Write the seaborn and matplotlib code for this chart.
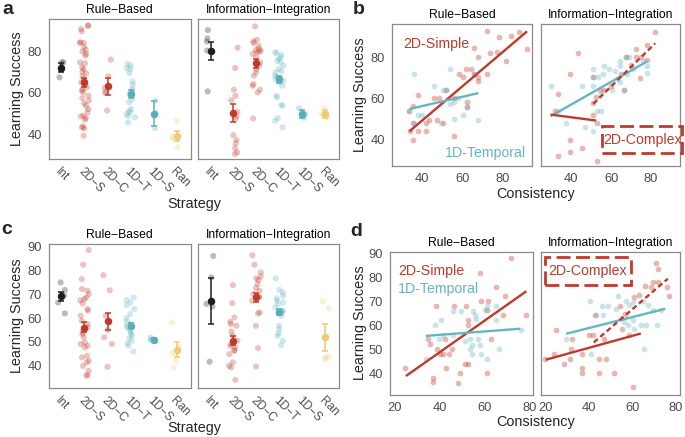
import numpy as np
import pandas as pd
import matplotlib
matplotlib.use("Agg")
import matplotlib.pyplot as plt
import seaborn as sns
from matplotlib.patches import Rectangle

sns.set_style("white")
plt.rcParams['font.family'] = ['Liberation Sans', 'DejaVu Sans']
np.random.seed(3)

# ---------------- categories / labels ----------------
ORDER = ["Int", "2D-S", "2D-C", "1D-T", "1D-S", "Ran"]
TICK_LABELS = ["Int", "2D\u2212S", "2D\u2212C", "1D\u2212T", "1D\u2212S", "Ran"]
FACETS = ["Rule\u2212Based", "Information\u2212Integration"]

# ---------------- panel a: strip data ----------------
a_rb_int = [74.6, 74.6, 67.4, 72.5]
a_rb_2ds = [92.3, 92.0, 90.5, 89.4, 84.0, 83.8, 84.1, 81.8, 80.6, 79.8, 78.6, 77.8, 74.6, 74.1,
            72.2, 71.4, 70.1, 69.3, 66.6, 65.0, 63.7, 62.6, 61.8, 61.0, 60.2, 58.6, 56.3, 53.9,
            52.3, 50.7, 49.1, 48.8, 48.0, 47.2, 44.0, 43.5, 39.5, 43.0, 57.5, 68.0, 55.0]
a_rb_2dc = [75.9, 67.9, 60.6, 59.9, 51.6, 62.5]
a_rb_1dt = [73.8, 73.0, 71.7, 71.4, 69.5, 65.5, 63.9, 61.8, 61.0, 59.4, 57.0, 55.5, 52.3, 51.5,
            50.7, 49.9, 49.1, 48.3, 45.9]
a_rb_1ds = [56.3, 43.2, 50.5]
a_rb_ran = [46.7, 34.0, 39.0, 38.5]
a_rb_mean = [72.0, 65.0, 63.1, 59.3, 50.0, 39.5]
a_rb_lo = [70.1, 62.8, 59.1, 57.4, 44.0, 37.1]
a_rb_hi = [74.1, 67.1, 67.3, 61.4, 55.9, 41.6]

a_ii_int = [90.0, 86.0, 84.5, 80.2, 80.0, 60.7]
a_ii_2ds = [81.6, 71.9, 61.5, 58.6, 56.4, 51.0, 48.8, 47.5, 39.8, 37.5, 35.9, 33.6, 31.6, 30.8]
a_ii_2dc = [91.8, 85.4, 84.6, 83.8, 82.5, 81.0, 80.2, 79.7, 79.4, 78.6, 77.0, 74.6, 73.0, 71.4,
            69.8, 68.2, 64.2, 63.4, 61.5, 60.2, 47.8, 80.5]
a_ii_1dt = [79.4, 79.0, 78.1, 77.0, 76.2, 75.4, 74.6, 73.0, 71.4, 69.8, 68.2, 66.6, 65.8, 65.0,
            63.4, 58.6, 57.8, 54.2, 53.9, 48.0, 46.7, 43.5, 67.5, 70.5]
a_ii_1ds = [52.6, 48.0, 50.0, 49.5]
a_ii_ran = [52.6, 48.3, 50.0, 49.0]
a_ii_mean = [80.0, 50.4, 74.1, 66.6, 50.0, 50.0]
a_ii_lo = [75.7, 46.2, 72.0, 64.5, 48.0, 48.0]
a_ii_hi = [84.1, 54.7, 76.0, 68.2, 52.0, 52.0]

# ---------------- panel c: strip data ----------------
c_rb_int = [75.0, 71.8, 66.6, 62.0, 69.5]
c_rb_2ds = [88.6, 82.4, 76.4, 72.2, 71.5, 70.1, 68.7, 68.0, 66.2, 63.8, 63.1, 61.0, 58.9, 57.5,
            56.1, 54.0, 53.3, 51.9, 49.8, 49.1, 48.4, 47.7, 44.2, 43.5, 42.1, 41.4, 40.0, 37.9,
            35.8, 36.1, 67.5]
c_rb_2dc = [78.0, 71.7, 61.0, 55.0, 52.0, 49.2, 39.6]
c_rb_1dt = [68.7, 67.6, 66.6, 65.5, 63.8, 61.7, 60.0, 58.6, 57.5, 56.7, 56.1, 55.0, 54.3, 53.3,
            52.6, 51.5, 50.5, 49.4, 48.4, 46.0]
c_rb_1ds = [51.9, 50.9, 50.6, 51.0]
c_rb_ran = [58.2, 45.3, 42.1, 39.3, 48.0]
c_rb_mean = [69.1, 56.0, 58.6, 56.7, 50.9, 46.7]
c_rb_lo = [67.0, 54.0, 55.1, 55.7, 50.3, 43.5]
c_rb_hi = [71.1, 58.2, 62.0, 57.8, 51.5, 49.8]

c_ii_int = [86.1, 77.1, 64.9, 41.7, 66.0]
c_ii_2ds = [73.9, 66.3, 60.3, 58.5, 57.5, 56.8, 54.4, 52.6, 50.5, 49.1, 48.4, 47.7, 46.6, 46.3,
            44.9, 41.4, 40.0, 39.3, 34.1]
c_ii_2dc = [86.4, 82.4, 79.2, 77.5, 76.7, 76.0, 74.3, 72.6, 71.5, 70.1, 68.7, 67.3, 62.4, 62.0,
            56.8, 47.4, 39.7, 69.0]
c_ii_1dt = [76.7, 71.9, 70.8, 69.4, 68.3, 67.3, 66.6, 65.9, 64.5, 63.1, 62.4, 61.0, 56.8, 55.4,
            53.6, 52.6, 50.5, 48.7, 62.5, 63.0]
c_ii_1ds = []
c_ii_ran = [67.0, 64.1, 43.8, 42.8, 43.5]
c_ii_mean = [67.3, 50.5, 68.7, 62.7, np.nan, 51.9]
c_ii_lo = [57.5, 48.7, 66.6, 61.4, np.nan, 46.3]
c_ii_hi = [76.8, 52.6, 70.4, 63.8, np.nan, 57.5]

# ---------------- panel b: scatter data ----------------
b_rb_2ds_x = [71.9, 77.9, 84.0, 88.1, 91.9, 65.8, 67.8, 73.7, 77.0, 81.5, 72.1, 61.8, 64.1, 58.0,
              60.0, 65.8, 67.8, 67.8, 37.7, 45.6, 48.4, 55.9, 62.1, 62.1, 51.7, 35.2, 33.6, 43.5,
              47.1, 50.4, 41.8, 35.2, 34.0, 37.9, 41.8, 35.6, 55.9]
b_rb_2ds_y = [92.6, 90.0, 90.3, 92.3, 84.2, 84.4, 80.3, 82.1, 82.4, 78.4, 71.9, 74.2, 74.2, 71.9,
              70.3, 71.9, 70.6, 68.4, 61.9, 60.3, 60.3, 60.3, 58.2, 56.1, 64.2, 56.6, 53.9, 49.8,
              49.8, 48.1, 48.1, 48.1, 44.2, 44.2, 44.2, 40.0, 42.1]
b_rb_1dt_x = [35.7, 53.9, 46.0, 50.1, 51.7, 55.9, 53.9, 37.7, 39.7, 33.6, 55.5, 60.0, 67.8, 35.7,
              49.3, 62.1, 65.8, 57.5]
b_rb_1dt_y = [71.9, 74.2, 66.1, 64.2, 64.2, 58.2, 57.4, 52.3, 52.3, 53.9, 50.2, 52.3, 49.8, 48.1,
              48.2, 56.1, 71.9, 60.5]

b_ii_2ds_x = [43.4, 39.4, 33.3, 52.2, 50.9, 31.7, 50.9, 53.0, 39.4, 45.3, 39.4, 33.3, 53.0]
b_ii_2ds_y = [82.1, 71.9, 62.3, 60.6, 57.9, 53.9, 52.3, 48.2, 40.0, 36.1, 34.0, 32.1, 30.0]
b_ii_2dc_x = [82.1, 78.1, 72.5, 67.4, 72.5, 74.9, 78.1, 50.9, 59.7, 74.6, 66.6, 54.6, 56.5, 65.0, 70.0]
b_ii_2dc_y = [92.1, 86.1, 84.0, 80.0, 80.0, 80.0, 78.7, 70.3, 66.3, 70.0, 64.4, 64.2, 64.2, 72.0, 76.5]
b_ii_1dt_x = [29.6, 45.3, 50.9, 50.9, 56.5, 58.9, 64.5, 64.5, 69.0, 78.1, 78.1, 53.3, 62.9, 64.2,
              60.5, 54.9, 53.0, 54.9, 37.3, 46.9, 50.9, 33.3, 70.9, 75.7, 55.7, 62.1, 67.7, 66.6,
              50.9, 67.4]
b_ii_1dt_y = [66.3, 66.3, 74.2, 66.3, 76.0, 74.2, 78.4, 76.0, 80.0, 76.0, 72.3, 70.3, 69.5, 67.9,
              64.2, 62.3, 53.9, 53.9, 48.1, 46.1, 44.2, 53.9, 74.4, 78.4, 71.9, 73.5, 71.9, 64.4,
              70.3, 80.0]

# ---------------- panel d: scatter data ----------------
d_rb_2ds_x = [71.7, 58.2, 65.3, 69.0, 78.7, 38.3, 46.3, 51.9, 58.6, 61.6, 61.2, 68.3, 52.7, 52.7,
              34.9, 35.6, 42.3, 45.3, 38.6, 63.1, 40.1, 41.5, 44.2, 51.2, 52.7, 42.7, 49.0, 61.2,
              36.8, 37.1, 48.2, 24.5]
d_rb_2ds_y = [88.1, 81.9, 76.0, 72.1, 64.2, 68.1, 68.1, 68.1, 70.0, 70.0, 66.3, 64.2, 62.1, 60.3,
              54.2, 52.4, 54.2, 50.3, 50.3, 54.2, 48.2, 48.2, 48.2, 44.0, 44.0, 42.2, 40.3, 40.3,
              38.1, 36.4, 36.1, 42.2]
d_rb_1dt_x = [46.0, 49.3, 54.9, 55.7, 56.4, 61.2, 65.3, 60.1, 65.0, 37.8, 40.4, 39.8, 41.5, 46.0,
              51.2, 53.4, 54.2, 53.4, 54.2, 57.1, 58.6, 60.9, 66.5, 33.8, 76.5, 57.9]
d_rb_1dt_y = [65.8, 65.8, 65.8, 64.2, 62.8, 68.1, 68.1, 66.3, 62.1, 60.0, 62.1, 54.2, 56.1, 56.1,
              53.3, 54.2, 51.9, 50.0, 48.2, 54.2, 48.2, 46.1, 50.0, 46.1, 57.9, 51.7]

d_ii_2ds_x = [40.0, 24.9, 46.9, 32.3, 36.9, 31.5, 23.8, 20.0, 31.1, 28.5, 44.6, 47.7, 36.6, 36.9,
              44.6, 51.5, 60.3, 42.8, 41.8]
d_ii_2ds_y = [56.1, 57.9, 54.2, 54.2, 48.2, 50.0, 48.2, 46.1, 46.1, 44.0, 46.1, 46.1, 42.2, 40.3,
              40.3, 40.3, 34.3, 64.2, 56.1]
d_ii_2dc_x = [70.8, 71.5, 69.2, 71.5, 65.8, 68.5, 75.7, 76.6, 63.1, 60.8, 54.2, 56.6, 55.1, 58.2]
d_ii_2dc_y = [86.1, 83.3, 78.1, 78.1, 76.4, 76.0, 76.0, 72.2, 72.5, 71.8, 68.1, 64.9, 58.6, 56.1]
d_ii_1dt_x = [53.4, 40.3, 45.8, 48.5, 43.1, 46.2, 52.3, 57.2, 58.5, 60.0, 64.6, 66.9, 54.6, 56.2,
              60.0, 63.8, 66.2, 71.1, 57.7, 60.8, 29.5, 40.8, 65.4, 73.1, 69.2]
d_ii_1dt_y = [72.1, 70.0, 68.1, 68.1, 64.2, 64.2, 66.9, 70.0, 68.3, 69.7, 70.0, 68.3, 63.1, 61.4,
              62.1, 60.3, 60.0, 60.3, 60.0, 58.6, 54.2, 48.2, 50.0, 66.3, 66.3]

# ---------------- fitted lines (endpoints) ----------------
b_rb_fit_2ds = ([33.6, 91.9], [44.2, 92.6])
b_rb_fit_1dt = ([33.6, 67.8], [55.0, 62.7])
b_ii_fit_1dt = ([29.6, 78.1], [51.5, 78.1])
b_ii_fit_2ds = ([29.6, 52.5], [52.3, 49.4])
b_ii_fit_2dc = ([51.0, 82.1], [57.5, 86.8])
d_rb_fit_2ds = ([24.9, 78.7], [38.9, 74.2])
d_rb_fit_1dt = ([33.8, 76.0], [55.6, 58.6])
d_ii_fit_1dt = ([29.5, 75.1], [56.5, 66.9])
d_ii_fit_2ds = ([20.2, 63.8], [45.7, 56.6])
d_ii_fit_2dc = ([42.2, 76.2], [52.9, 79.4])

# ---------------- style ----------------
RED = "#C0392B"
TEAL = "#65B6C0"
YEL = "#F1D07E"
BLK = "#1E1E1E"
PAL = {"Int": BLK, "2D-S": RED, "2D-C": RED, "1D-T": TEAL, "1D-S": TEAL, "Ran": YEL}
MEANC = {"Int": BLK, "2D-S": RED, "2D-C": RED, "1D-T": "#5AAEB8", "1D-S": "#5AAEB8", "Ran": "#EFCB74"}
FRAME = "#8A8A8A"
TICKC = "#4D4D4D"

W, H = 685, 437
fig = plt.figure(figsize=(W / 100, H / 100), dpi=100)


def add_ax(x0, y0, x1, y1):
    return fig.add_axes([x0 / W, 1 - y1 / H, (x1 - x0) / W, (y1 - y0) / H])


def style_ax(ax, show_y, xsize):
    for s in ax.spines.values():
        s.set_color(FRAME)
        s.set_linewidth(0.9)
    ax.tick_params(axis="both", colors=FRAME, labelcolor=TICKC, length=3, width=0.8, pad=2)
    ax.tick_params(axis="y", labelsize=9.3)
    ax.tick_params(axis="x", labelsize=xsize)
    if not show_y:
        ax.tick_params(axis="y", left=False, labelleft=False)
    ax.set_xlabel("")
    ax.set_ylabel("")
    ax.grid(False)


def strip_panel(ax, groups, means, lo, hi, ylim, yticks, title, show_y):
    strat = [s for s, v in zip(ORDER, groups) for _ in v]
    vals = [x for v in groups for x in v]
    df = pd.DataFrame({"strategy": pd.Categorical(strat, categories=ORDER), "value": vals})
    sns.stripplot(data=df, x="strategy", y="value", hue="strategy", order=ORDER,
                  hue_order=ORDER, palette=PAL, jitter=0.2, size=4.4, alpha=0.3,
                  linewidth=0, legend=False, ax=ax)
    for i, (m, l, h) in enumerate(zip(means, lo, hi)):
        if np.isnan(m):
            continue
        ax.errorbar(i, m, yerr=[[m - l], [h - m]], fmt="o", color=MEANC[ORDER[i]], ms=4.4,
                    capsize=2.0, elinewidth=1.1, capthick=1.1, zorder=5)
    ax.set_xlim(-0.55, 5.62)
    ax.set_ylim(*ylim)
    ax.set_yticks(yticks)
    ax.set_xticks(range(len(ORDER)))
    ax.set_xticklabels(TICK_LABELS, rotation=-45, ha="left", va="top", rotation_mode="anchor")
    style_ax(ax, show_y, 8.6)
    ax.set_title(title, fontsize=8.7, pad=4.5, color="black")


def scatter_panel(ax, pts, fits, xlim, ylim, xticks, yticks, title, show_y):
    for xs, ys, col in pts:
        sns.scatterplot(x=xs, y=ys, color=col, alpha=0.36, s=17, linewidth=0, ax=ax, legend=False)
    for (xs, ys), col, dashed in fits:
        ax.plot(xs, ys, color=col, lw=1.7, ls=(0, (2.2, 1.4)) if dashed else "-", zorder=4,
                solid_capstyle="butt")
    ax.set_xlim(*xlim)
    ax.set_ylim(*ylim)
    ax.set_xticks(xticks)
    ax.set_yticks(yticks)
    style_ax(ax, show_y, 9.3)
    ax.set_title(title, fontsize=8.7, pad=4.5, color="black")


# ---- panel a ----
ax = add_ax(48.7, 19, 191, 159)
strip_panel(ax, [a_rb_int, a_rb_2ds, a_rb_2dc, a_rb_1dt, a_rb_1ds, a_rb_ran],
            a_rb_mean, a_rb_lo, a_rb_hi, (28.4, 95.3), [40, 60, 80], FACETS[0], True)
ax = add_ax(198, 19, 339.3, 159)
strip_panel(ax, [a_ii_int, a_ii_2ds, a_ii_2dc, a_ii_1dt, a_ii_1ds, a_ii_ran],
            a_ii_mean, a_ii_lo, a_ii_hi, (28.4, 95.3), [40, 60, 80], FACETS[1], False)

# ---- panel c ----
ax = add_ax(48.7, 244.3, 191, 387.7)
strip_panel(ax, [c_rb_int, c_rb_2ds, c_rb_2dc, c_rb_1dt, c_rb_1ds, c_rb_ran],
            c_rb_mean, c_rb_lo, c_rb_hi, (30.8, 91.0), [40, 50, 60, 70, 80, 90], FACETS[0], True)
ax = add_ax(198, 244.3, 339.3, 387.7)
strip_panel(ax, [c_ii_int, c_ii_2ds, c_ii_2dc, c_ii_1dt, c_ii_1ds, c_ii_ran],
            c_ii_mean, c_ii_lo, c_ii_hi, (30.8, 91.0), [40, 50, 60, 70, 80, 90], FACETS[1], False)

# ---- panel b ----
b_xlim, b_ylim = (24.8, 94.5), (27.4, 96.0)
ax = add_ax(391.7, 24.3, 532.3, 166)
scatter_panel(ax, [(b_rb_2ds_x, b_rb_2ds_y, RED), (b_rb_1dt_x, b_rb_1dt_y, TEAL)],
              [(b_rb_fit_2ds, RED, False), (b_rb_fit_1dt, TEAL, False)],
              b_xlim, b_ylim, [40, 60, 80], [40, 60, 80], FACETS[0], True)
ax.text(0.08, 0.86, "2D-Simple", color=RED, fontsize=10.2, transform=ax.transAxes,
        ha="left", va="center")
ax.text(0.375, 0.094, "1D-Temporal", color=TEAL, fontsize=10.2, transform=ax.transAxes,
        ha="left", va="center")

ax = add_ax(541, 24.3, 680, 166)
scatter_panel(ax, [(b_ii_2ds_x, b_ii_2ds_y, RED), (b_ii_2dc_x, b_ii_2dc_y, RED),
                   (b_ii_1dt_x, b_ii_1dt_y, TEAL)],
              [(b_ii_fit_1dt, TEAL, False), (b_ii_fit_2ds, RED, False), (b_ii_fit_2dc, RED, True)],
              b_xlim, b_ylim, [40, 60, 80], [40, 60, 80], FACETS[1], False)
ax.add_patch(Rectangle((0.437, 0.09), 0.575, 0.192, transform=ax.transAxes, fill=False,
                       ec=RED, lw=2.0, ls=(0, (5, 2)), clip_on=False, zorder=6))
ax.text(0.73, 0.186, "2D-Complex", color=RED, fontsize=10.2, transform=ax.transAxes,
        ha="center", va="center")

# ---- panel d ----
d_xlim, d_ylim = (17.8, 81.8), (31.0, 90.4)
ax = add_ax(390, 252.3, 533.3, 395)
scatter_panel(ax, [(d_rb_2ds_x, d_rb_2ds_y, RED), (d_rb_1dt_x, d_rb_1dt_y, TEAL)],
              [(d_rb_fit_2ds, RED, False), (d_rb_fit_1dt, TEAL, False)],
              d_xlim, d_ylim, [20, 40, 60, 80], [40, 50, 60, 70, 80, 90], FACETS[0], True)
ax.text(0.056, 0.869, "2D-Simple", color=RED, fontsize=10.2, transform=ax.transAxes,
        ha="left", va="center")
ax.text(0.056, 0.743, "1D-Temporal", color=TEAL, fontsize=10.2, transform=ax.transAxes,
        ha="left", va="center")

ax = add_ax(540.7, 252.3, 680, 395)
scatter_panel(ax, [(d_ii_2ds_x, d_ii_2ds_y, RED), (d_ii_2dc_x, d_ii_2dc_y, RED),
                   (d_ii_1dt_x, d_ii_1dt_y, TEAL)],
              [(d_ii_fit_1dt, TEAL, False), (d_ii_fit_2ds, RED, False), (d_ii_fit_2dc, RED, True)],
              d_xlim, d_ylim, [20, 40, 60, 80], [40, 50, 60, 70, 80, 90], FACETS[1], False)
ax.add_patch(Rectangle((0.031, 0.771), 0.615, 0.194, transform=ax.transAxes, fill=False,
                       ec=RED, lw=2.0, ls=(0, (5, 2)), clip_on=False, zorder=6))
ax.text(0.34, 0.869, "2D-Complex", color=RED, fontsize=10.2, transform=ax.transAxes,
        ha="center", va="center")

# ---- shared labels ----
def ftext(x, y, s, **kw):
    fig.text(x / W, 1 - y / H, s, **kw)

for yc, xc in [(89, 17), (316, 17), (95, 360), (323, 360)]:
    ftext(xc, yc, "Learning Success", rotation=90, ha="center", va="center", fontsize=10.4)
ftext(194, 204, "Strategy", ha="center", va="center", fontsize=10.4)
ftext(194, 428, "Strategy", ha="center", va="center", fontsize=10.4)
ftext(536, 194, "Consistency", ha="center", va="center", fontsize=10.4)
ftext(536, 422, "Consistency", ha="center", va="center", fontsize=10.4)

for x, y, s in [(8, 10, "a"), (359, 9.5, "b"), (7, 229.5, "c"), (356, 232, "d")]:
    ftext(x, y, s, ha="center", va="center", fontsize=14, fontweight="bold")

fig.savefig("out.png", dpi=100)
